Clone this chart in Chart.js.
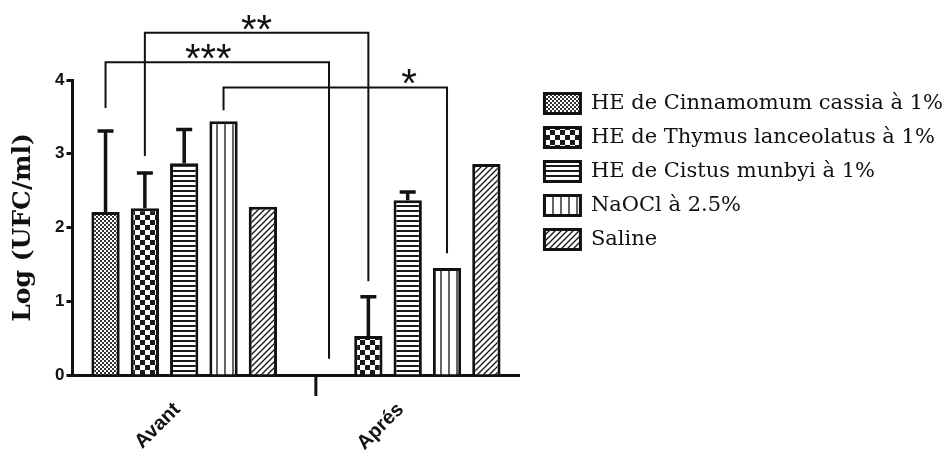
<!DOCTYPE html>
<html>
<head>
<meta charset="utf-8">
<script src="https://cdn.jsdelivr.net/npm/chart.js@4.4.1/dist/chart.umd.min.js"></script>
<style>
  html, body { margin: 0; padding: 0; background: #fff; }
  #wrap { width: 951px; height: 455px; }
</style>
</head>
<body>
<div id="wrap"><canvas id="chart" width="951" height="455"></canvas></div>
<script>
// groups on the x axis
const groups = ["Avant", "Aprés"];
const seriesNames = [
  "HE de Cinnamomum cassia à 1%",
  "HE de Thymus lanceolatus à 1%",
  "HE de Cistus munbyi à 1%",
  "NaOCl à 2.5%",
  "Saline"
];

// mean values, Log (UFC/ml)
const cinnamomum = [2.21, 0];
const thymus = [2.26, 0.53];
const cistus = [2.87, 2.37];
const naocl = [3.44, 1.45];
const saline = [2.28, 2.86];

// upper error (SD)
const cinnamomumErr = [1.10, 0];
const thymusErr = [0.48, 0.53];
const cistusErr = [0.46, 0.11];
const naoclErr = [0, 0];
const salineErr = [0, 0];

// significance brackets: series index (same series Avant -> Aprés)
const sigLabels = ["***", "**", "*"];
const sigSeries = [0, 1, 3];
const sigTop = [4.24, 4.64, 3.90];
const sigLeftEnd = [3.62, 2.97, 3.59];
const sigRightEnd = [0.22, 1.27, 1.65];
const sigTextAt = [0.46, 0.5, 0.83];

const canvas = document.getElementById('chart');
const ctx = canvas.getContext('2d');

function makePattern(kind) {
  const c = document.createElement('canvas');
  const g = c.getContext('2d');
  let s = 4;
  if (kind === 'fine') s = 4;
  if (kind === 'check') s = 10;
  if (kind === 'hlines') s = 5;
  if (kind === 'vlines') s = 8;
  if (kind === 'diag') s = 6;
  c.width = s; c.height = s;
  g.fillStyle = '#fff';
  g.fillRect(0, 0, s, s);
  g.fillStyle = '#1a1a1a';
  g.strokeStyle = '#1a1a1a';
  if (kind === 'fine') {
    g.fillStyle = '#333';
    g.fillRect(0, 0, 2, 2);
    g.fillRect(2, 2, 2, 2);
  } else if (kind === 'check') {
    g.fillRect(0, 0, 5, 5);
    g.fillRect(5, 5, 5, 5);
  } else if (kind === 'hlines') {
    g.fillRect(0, 0, s, 2);
  } else if (kind === 'vlines') {
    g.fillStyle = '#666';
    g.fillRect(0, 0, 2, s);
  } else if (kind === 'diag') {
    g.lineWidth = 1.4;
    g.beginPath();
    g.moveTo(-1, s + 1); g.lineTo(s + 1, -1);
    g.moveTo(-1, 1); g.lineTo(1, -1);
    g.moveTo(s - 1, s + 1); g.lineTo(s + 1, s - 1);
    g.stroke();
  }
  return ctx.createPattern(c, 'repeat');
}

const fills = ['fine', 'check', 'hlines', 'vlines', 'diag'].map(makePattern);
const values = [cinnamomum, thymus, cistus, naocl, saline];
const errs = [cinnamomumErr, thymusErr, cistusErr, naoclErr, salineErr];

const datasets = seriesNames.map((name, i) => ({
  label: name,
  data: values[i],
  errors: errs[i],
  backgroundColor: fills[i],
  borderColor: '#111',
  borderWidth: 3
}));

const errorBars = {
  id: 'errorBars',
  afterDatasetsDraw(chart) {
    const y = chart.scales.y;
    const c = chart.ctx;
    chart.data.datasets.forEach((ds, i) => {
      chart.getDatasetMeta(i).data.forEach((bar, j) => {
        const e = ds.errors[j];
        if (!e) return;
        const top = y.getPixelForValue(ds.data[j] + e);
        c.save();
        c.strokeStyle = '#111';
        c.lineWidth = 3.5;
        c.beginPath();
        c.moveTo(bar.x, bar.y);
        c.lineTo(bar.x, top);
        c.moveTo(bar.x - 8, top);
        c.lineTo(bar.x + 8, top);
        c.stroke();
        c.restore();
      });
    });
  }
};

// nudge the legend a bit to the right, like the original
const legendShift = {
  id: 'legendShift',
  afterLayout(chart) {
    chart.legend.left += 12;
    chart.legend.right += 12;
  }
};

const extras = {
  id: 'extras',
  afterDraw(chart) {
    const y = chart.scales.y;
    const c = chart.ctx;
    c.save();
    // small tick under the axis between the groups
    const b = chart.getDatasetMeta(0).data[1];
    const bx = b.x - b.width / 2 + 1;
    c.strokeStyle = '#111';
    c.lineWidth = 3;
    c.beginPath();
    c.moveTo(bx, chart.chartArea.bottom);
    c.lineTo(bx, chart.chartArea.bottom + 21);
    c.stroke();

    // significance brackets
    c.lineWidth = 2;
    c.fillStyle = '#111';
    c.font = '40px "Liberation Sans", Arial, sans-serif';
    c.textAlign = 'center';
    c.textBaseline = 'alphabetic';
    sigLabels.forEach((lab, k) => {
      const meta = chart.getDatasetMeta(sigSeries[k]);
      const x1 = meta.data[0].x;
      const x2 = meta.data[1].x;
      const yt = y.getPixelForValue(sigTop[k]);
      c.beginPath();
      c.moveTo(x1, y.getPixelForValue(sigLeftEnd[k]));
      c.lineTo(x1, yt);
      c.lineTo(x2, yt);
      c.lineTo(x2, y.getPixelForValue(sigRightEnd[k]));
      c.stroke();
      c.fillText(lab, x1 + (x2 - x1) * sigTextAt[k], yt + 10);
    });
    c.restore();
  }
};

new Chart(ctx, {
  type: 'bar',
  data: { labels: groups, datasets: datasets },
  options: {
    responsive: false,
    animation: false,
    devicePixelRatio: 1,
    layout: { padding: { top: 80, right: 10, bottom: 0, left: 8 } },
    datasets: { bar: { barPercentage: 0.72, categoryPercentage: 0.88 } },
    plugins: {
      tooltip: { enabled: false },
      legend: {
        position: 'right',
        align: 'start',
        maxWidth: 440,
        labels: {
          boxWidth: 36,
          boxHeight: 20,
          padding: 13,
          color: '#111',
          font: { family: '"DejaVu Serif", serif', size: 21 }
        }
      }
    },
    scales: {
      x: {
        afterFit(scale) { scale.height = 80; },
        ticks: {
          color: '#111',
          maxRotation: 45,
          minRotation: 45,
          padding: 23,
          labelOffset: -7,
          font: { family: '"Liberation Sans", Arial, sans-serif', weight: 'bold', size: 20 }
        },
        grid: { drawOnChartArea: false, drawTicks: false },
        border: { display: true, color: '#111', width: 3 }
      },
      y: {
        min: 0,
        max: 4,
        ticks: {
          stepSize: 1,
          color: '#111',
          padding: 2,
          font: { family: '"Liberation Sans", Arial, sans-serif', weight: 'bold', size: 17 }
        },
        grid: { drawOnChartArea: false, tickLength: 6, tickWidth: 3, tickColor: '#111' },
        border: { color: '#111', width: 3 },
        title: {
          display: true,
          text: 'Log (UFC/ml)',
          color: '#111',
          padding: { top: 0, bottom: 15 },
          font: { family: '"DejaVu Serif", serif', weight: 'bold', size: 25 }
        }
      }
    }
  },
  plugins: [errorBars, extras, legendShift]
});
</script>
</body>
</html>
